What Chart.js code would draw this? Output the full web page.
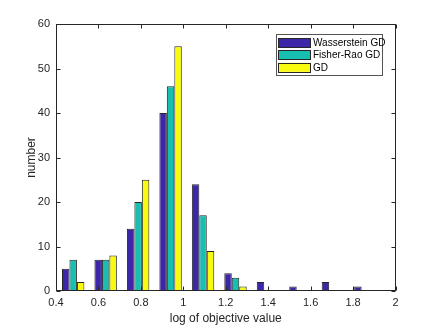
<!DOCTYPE html>
<html>
<head>
<meta charset="utf-8">
<script src="https://cdn.jsdelivr.net/npm/chart.js@4.4.0/dist/chart.umd.min.js"></script>
<style>
  html, body { margin: 0; padding: 0; background: #fff; }
  #wrap { width: 436px; height: 327px; }
</style>
</head>
<body>
<div id="wrap"><canvas id="chart" width="436" height="327"></canvas></div>
<script>
// histogram bin centres (log of objective value)
const binCenters = [0.481, 0.634, 0.787, 0.940, 1.093, 1.246, 1.399, 1.552, 1.705, 1.858];
const seriesNames = ['Wasserstein GD', 'Fisher-Rao GD', 'GD'];
const wasserstein = [5, 7, 14, 40, 24, 4, 2, 1, 2, 1];
const fisherRao = [7, 7, 20, 46, 17, 3, 0, 0, 0, 0];
const gdCounts = [2, 8, 25, 55, 9, 1, 0, 0, 0, 0];
const xTicks = [0.4, 0.6, 0.8, 1, 1.2, 1.4, 1.6, 1.8, 2];
const yTicks = [0, 10, 20, 30, 40, 50, 60];

const colors = ['#3e26a8', '#17bfb1', '#f9fb0e'];
const ink = '#262626';
const font = 'Liberation Sans, Arial, Helvetica, sans-serif';

function points(vals) {
  return vals.map((v, i) => ({ x: binCenters[i], y: v }));
}

// box round the axes, ticks pointing inwards, legend in the corner
const matlabAxes = {
  id: 'matlabAxes',
  afterDatasetsDraw(c) {
    const { ctx, chartArea: a, scales: { x, y } } = c;
    const L = Math.round(a.left) + 0.5, R = Math.round(a.right) - 0.5;
    const T = Math.round(a.top) + 0.5, B = Math.round(a.bottom) - 0.5;
    ctx.save();
    ctx.strokeStyle = ink;
    ctx.lineWidth = 1;
    ctx.strokeRect(L, T, R - L, B - T);
    ctx.beginPath();
    xTicks.forEach(t => {
      const px = Math.round(x.getPixelForValue(t)) + 0.5;
      ctx.moveTo(px, B); ctx.lineTo(px, B - 4);
      ctx.moveTo(px, T); ctx.lineTo(px, T + 4);
    });
    yTicks.forEach(t => {
      const py = Math.round(y.getPixelForValue(t)) + 0.5;
      ctx.moveTo(L, py); ctx.lineTo(L + 4, py);
      ctx.moveTo(R, py); ctx.lineTo(R - 4, py);
    });
    ctx.stroke();

    // legend
    const bx = 276.5, by = 34.5, bw = 106, bh = 41;
    ctx.fillStyle = '#fff';
    ctx.fillRect(bx, by, bw, bh);
    ctx.strokeStyle = '#555';
    ctx.strokeRect(bx, by, bw, bh);
    ctx.font = '10px ' + font;
    ctx.textBaseline = 'middle';
    seriesNames.forEach((name, i) => {
      const cy = 42.5 + i * 12.4;
      ctx.fillStyle = colors[i];
      ctx.fillRect(278.5, cy - 4.5, 32, 9);
      ctx.strokeStyle = ink;
      ctx.strokeRect(278.5, Math.round(cy - 4.5) + 0.5, 32, 9);
      ctx.fillStyle = '#000';
      ctx.fillText(name, 313, cy + 0.5);
    });
    ctx.restore();
  }
};

new Chart(document.getElementById('chart'), {
  type: 'bar',
  data: {
    datasets: seriesNames.map((name, i) => ({
      label: name,
      data: points([wasserstein, fisherRao, gdCounts][i]),
      backgroundColor: colors[i],
      borderColor: ink,
      borderWidth: 1,
      categoryPercentage: 0.69,
      barPercentage: 1.0
    }))
  },
  options: {
    responsive: false,
    animation: false,
    layout: { padding: { left: 0, right: 40.5, top: 24, bottom: 0 } },
    plugins: { legend: { display: false }, tooltip: { enabled: false } },
    scales: {
      x: {
        type: 'linear',
        min: 0.4, max: 2,
        offset: false,
        grid: { display: false, drawTicks: false, offset: false },
        border: { display: false },
        afterBuildTicks: s => { s.ticks = xTicks.map(v => ({ value: v })); },
        afterFit: s => { s.height = 36; },
        ticks: {
          color: ink, padding: 5, maxRotation: 0, autoSkip: false,
          font: { family: font, size: 11 },
          callback: v => String(v)
        },
        title: {
          display: true, text: 'log of objective value', color: ink,
          padding: 1.5, font: { family: font, size: 12 }
        }
      },
      y: {
        min: 0, max: 60,
        grid: { display: false, drawTicks: false },
        border: { display: false },
        afterBuildTicks: s => { s.ticks = yTicks.map(v => ({ value: v })); },
        afterFit: s => { s.width = 56; },
        ticks: {
          color: ink, padding: 6,
          font: { family: font, size: 11 }
        },
        title: {
          display: true, text: 'number', color: ink,
          padding: 24, font: { family: font, size: 12 }
        }
      }
    }
  },
  plugins: [matlabAxes]
});
</script>
</body>
</html>
